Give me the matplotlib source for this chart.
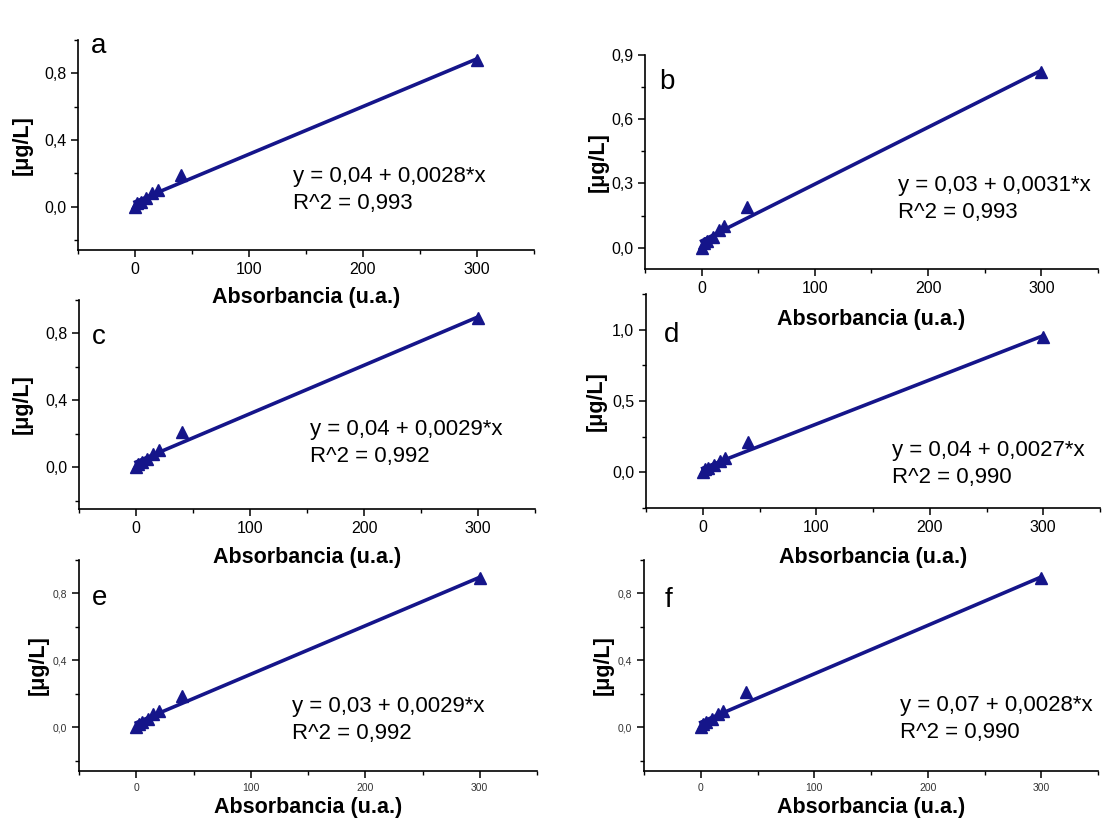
import numpy as np
import matplotlib
matplotlib.use("Agg")
import matplotlib.pyplot as plt
from matplotlib.ticker import MultipleLocator, FuncFormatter

plt.rcParams['font.family'] = ['Liberation Sans', 'DejaVu Sans']

# absorbance values (same for every panel)
absorb = [0, 2, 5, 10, 15, 20, 40, 300]

conc_a = [0.00, 0.02, 0.03, 0.05, 0.08, 0.10, 0.19, 0.88]
conc_b = [0.00, 0.02, 0.03, 0.05, 0.08, 0.10, 0.19, 0.82]
conc_c = [0.00, 0.02, 0.03, 0.05, 0.08, 0.10, 0.21, 0.89]
conc_d = [0.00, 0.02, 0.03, 0.05, 0.08, 0.10, 0.21, 0.95]
conc_e = [0.00, 0.02, 0.03, 0.05, 0.08, 0.10, 0.19, 0.89]
conc_f = [0.00, 0.02, 0.03, 0.05, 0.08, 0.10, 0.21, 0.89]

letters = ['a', 'b', 'c', 'd', 'e', 'f']
equations = ["y = 0,04 + 0,0028*x\nR^2 = 0,993",
             "y = 0,03 + 0,0031*x\nR^2 = 0,993",
             "y = 0,04 + 0,0029*x\nR^2 = 0,992",
             "y = 0,04 + 0,0027*x\nR^2 = 0,990",
             "y = 0,03 + 0,0029*x\nR^2 = 0,992",
             "y = 0,07 + 0,0028*x\nR^2 = 0,990"]
series = [conc_a, conc_b, conc_c, conc_d, conc_e, conc_f]

W, H = 1108, 827
# axes boxes in pixels: left, top, right, bottom
boxes = [(78, 40, 534, 250), (645, 55, 1098, 269),
         (79, 300, 535, 509), (646, 294, 1100, 508),
         (79, 560, 537, 771), (644, 560, 1098, 771)]
ylims = [(-0.26, 1.0), (-0.1, 0.9), (-0.25, 1.0), (-0.25, 1.25), (-0.26, 1.0), (-0.26, 1.0)]
ymaj = [0.4, 0.3, 0.4, 0.5, 0.4, 0.4]
tick_fs = [11.5, 11.5, 11.5, 11.5, 7.5, 7.5]
xlab_y = [298, 320, 558, 558, 808, 808]
ylab_x = [22, 598, 22, 596, 38, 603]
eq_pos = [(293, 190), (898, 199), (310, 443), (892, 464), (292, 720), (900, 719)]
let_pos = [(91, 46), (659, 82), (92, 337), (664, 335), (92, 598), (665, 600)]

col = '#15158a'
fig = plt.figure(figsize=(W / 100, H / 100), dpi=100)

for i in range(6):
    l, t, r, b = boxes[i]
    ax = fig.add_axes([l / W, 1 - b / H, (r - l) / W, (b - t) / H])
    ax.patch.set_alpha(0)
    x = np.array(absorb)
    y = np.array(series[i])
    k, c0 = np.polyfit(x, y, 1)
    xl = np.array([0, 300])
    ax.plot(xl, c0 + k * xl, color=col, lw=2.6, zorder=2)
    ax.plot(x, y, '^', color=col, ms=8, zorder=3, clip_on=False)

    ax.set_xlim(-50, 350)
    ax.set_ylim(*ylims[i])
    ax.xaxis.set_major_locator(MultipleLocator(100))
    ax.xaxis.set_minor_locator(MultipleLocator(50))
    ax.yaxis.set_major_locator(MultipleLocator(ymaj[i]))
    ax.yaxis.set_minor_locator(MultipleLocator(ymaj[i] / 2))
    ax.yaxis.set_major_formatter(FuncFormatter(lambda v, p: ("%.1f" % v).replace('.', ',')))
    for s in ['top', 'right']:
        ax.spines[s].set_visible(False)
    for s in ['left', 'bottom']:
        ax.spines[s].set_linewidth(1.2)
    ax.tick_params(which='major', direction='out', length=5, width=1.1,
                   labelsize=tick_fs[i], labelcolor='#333333' if i >= 4 else 'black')
    ax.tick_params(which='minor', direction='out', length=3, width=1.0)

    ax.set_xlabel("Absorbancia (u.a.)", fontsize=15.5, fontweight='bold')
    ax.xaxis.label.set_va('center')
    ax.xaxis.set_label_coords(0.5, (b - xlab_y[i]) / (b - t))
    ax.set_ylabel("[\u03bcg/L]", fontsize=15.5, fontweight='bold')
    ax.yaxis.label.set_va('center')
    ax.yaxis.set_label_coords((ylab_x[i] - l) / (r - l), 0.5)

    ex, ey = eq_pos[i]
    fig.text(ex / W, 1 - ey / H, equations[i], fontsize=16, va='center', ha='left',
             linespacing=1.35)
    lx, ly = let_pos[i]
    fig.text(lx / W, 1 - ly / H, letters[i], fontsize=20, va='center', ha='left')

fig.savefig("out.png", dpi=100, facecolor='white')
